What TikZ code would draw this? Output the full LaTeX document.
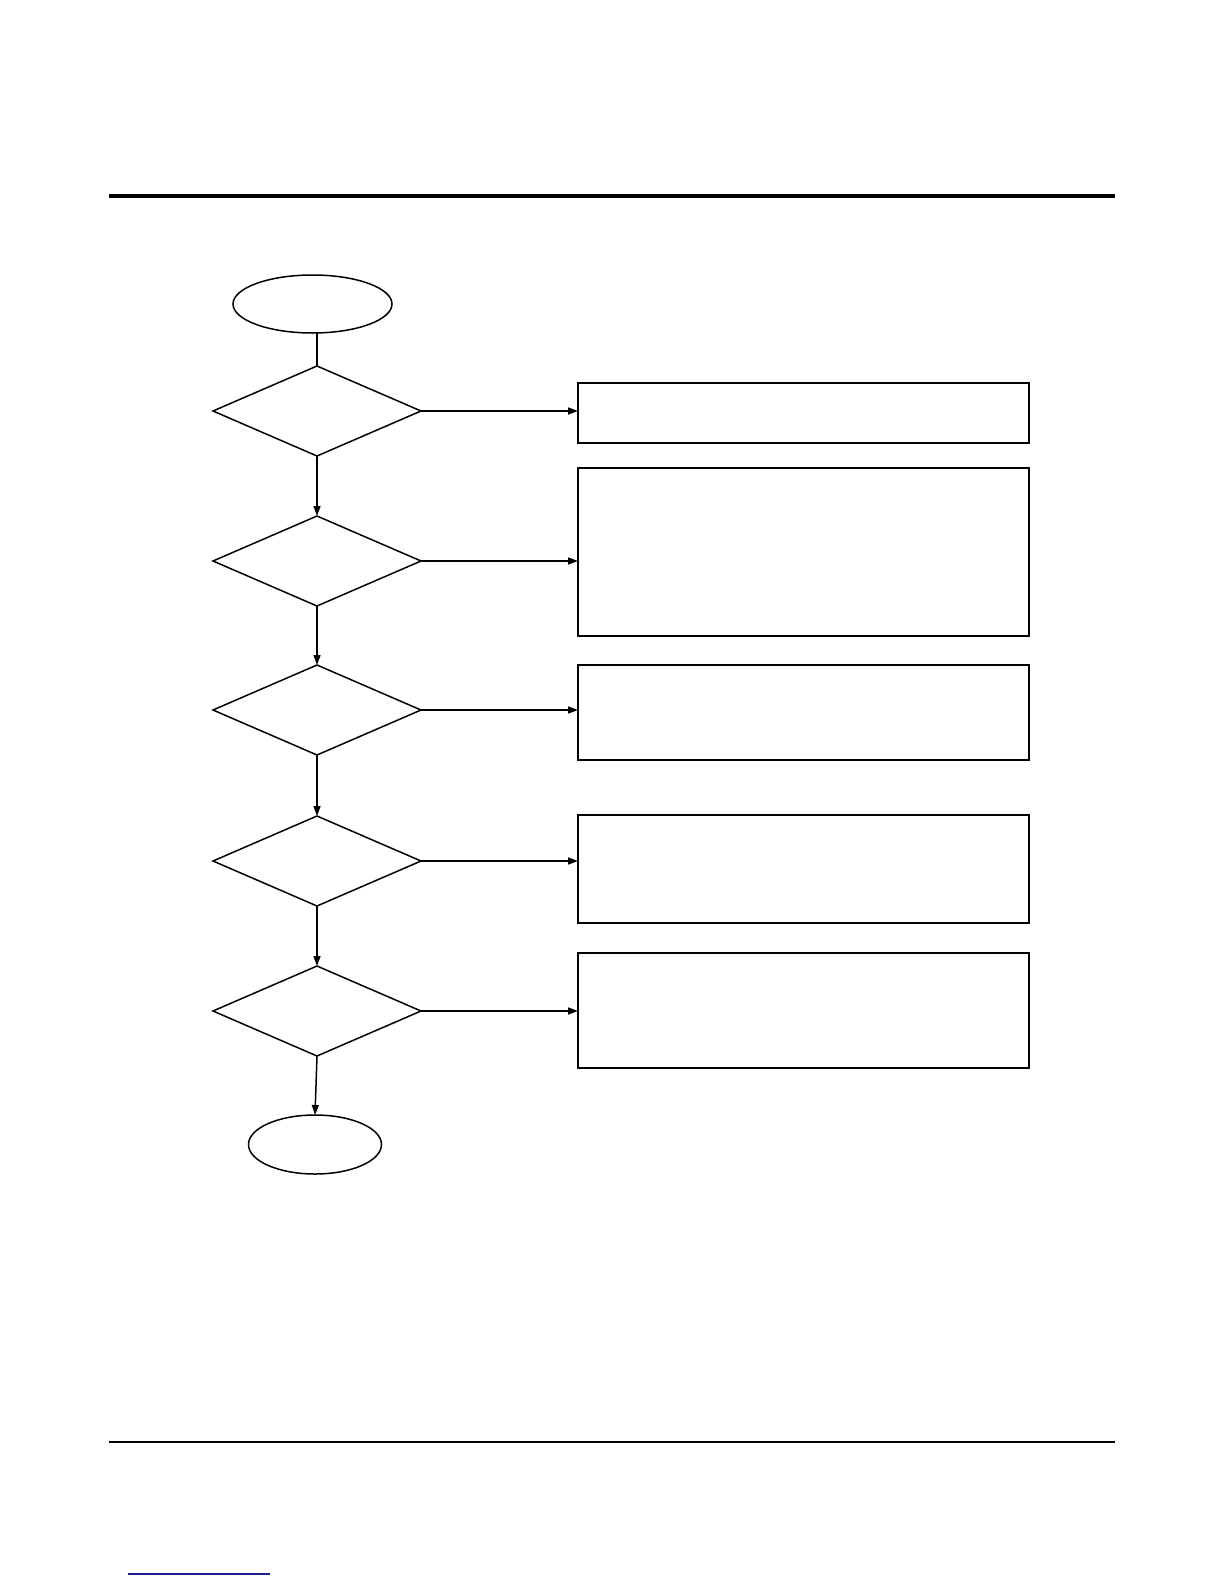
\documentclass[tikz,border=0pt]{standalone}
\usetikzlibrary{shapes.geometric,arrows.meta}
\definecolor{linkblue}{RGB}{30,30,140}
\begin{document}
\begin{tikzpicture}[x=1pt,y=-1pt,
  line width=1.5pt,
  term/.style={draw,ellipse,inner sep=0pt,outer sep=0pt},
  decision/.style={draw,diamond,inner sep=0pt,outer sep=0pt,minimum width=208pt,minimum height=90pt},
  infobox/.style={draw,rectangle,inner sep=0pt,outer sep=0pt,minimum width=451pt,anchor=north west},
  flow/.style={-{Triangle[length=10pt,width=7pt]}}]
\useasboundingbox (0,0) rectangle (1224,1584);
% rules
\coordinate (ta) at (109,196);
\coordinate (tb) at (1115,196);
\draw[line width=4pt] (ta) -- (tb);
\coordinate (ba) at (109,1442);
\coordinate (bb) at (1115,1442);
\draw[line width=1.2pt] (ba) -- (bb);
\coordinate (la) at (128,1574);
\coordinate (lb) at (270,1574);
\draw[linkblue,line width=1.5pt] (la) -- (lb);
% terminals
\node[term,minimum width=159pt,minimum height=58pt] (start) at (312.5,304) {};
\node[term,minimum width=133pt,minimum height=59pt] (stop) at (315,1144.5) {};
% decisions
\node[decision] (d1) at (317,411) {};
\node[decision] (d2) at (317,561) {};
\node[decision] (d3) at (317,710) {};
\node[decision] (d4) at (317,861) {};
\node[decision] (d5) at (317,1011) {};
% boxes
\node[infobox,minimum height=60pt] (b1) at (578,383) {};
\node[infobox,minimum height=168pt] (b2) at (578,468) {};
\node[infobox,minimum height=95pt] (b3) at (578,665) {};
\node[infobox,minimum height=108pt] (b4) at (578,815) {};
\node[infobox,minimum height=115pt] (b5) at (578,953) {};
% connectors
\draw (d1.north) -- (d1.north |- start.south);
\draw[flow] (d1.south) -- (d2.north);
\draw[flow] (d2.south) -- (d3.north);
\draw[flow] (d3.south) -- (d4.north);
\draw[flow] (d4.south) -- (d5.north);
\draw[flow] (d5.south) -- (stop.north);
\draw[flow] (d1.east) -- (d1.east -| b1.west);
\draw[flow] (d2.east) -- (d2.east -| b2.west);
\draw[flow] (d3.east) -- (d3.east -| b3.west);
\draw[flow] (d4.east) -- (d4.east -| b4.west);
\draw[flow] (d5.east) -- (d5.east -| b5.west);
\end{tikzpicture}
\end{document}
